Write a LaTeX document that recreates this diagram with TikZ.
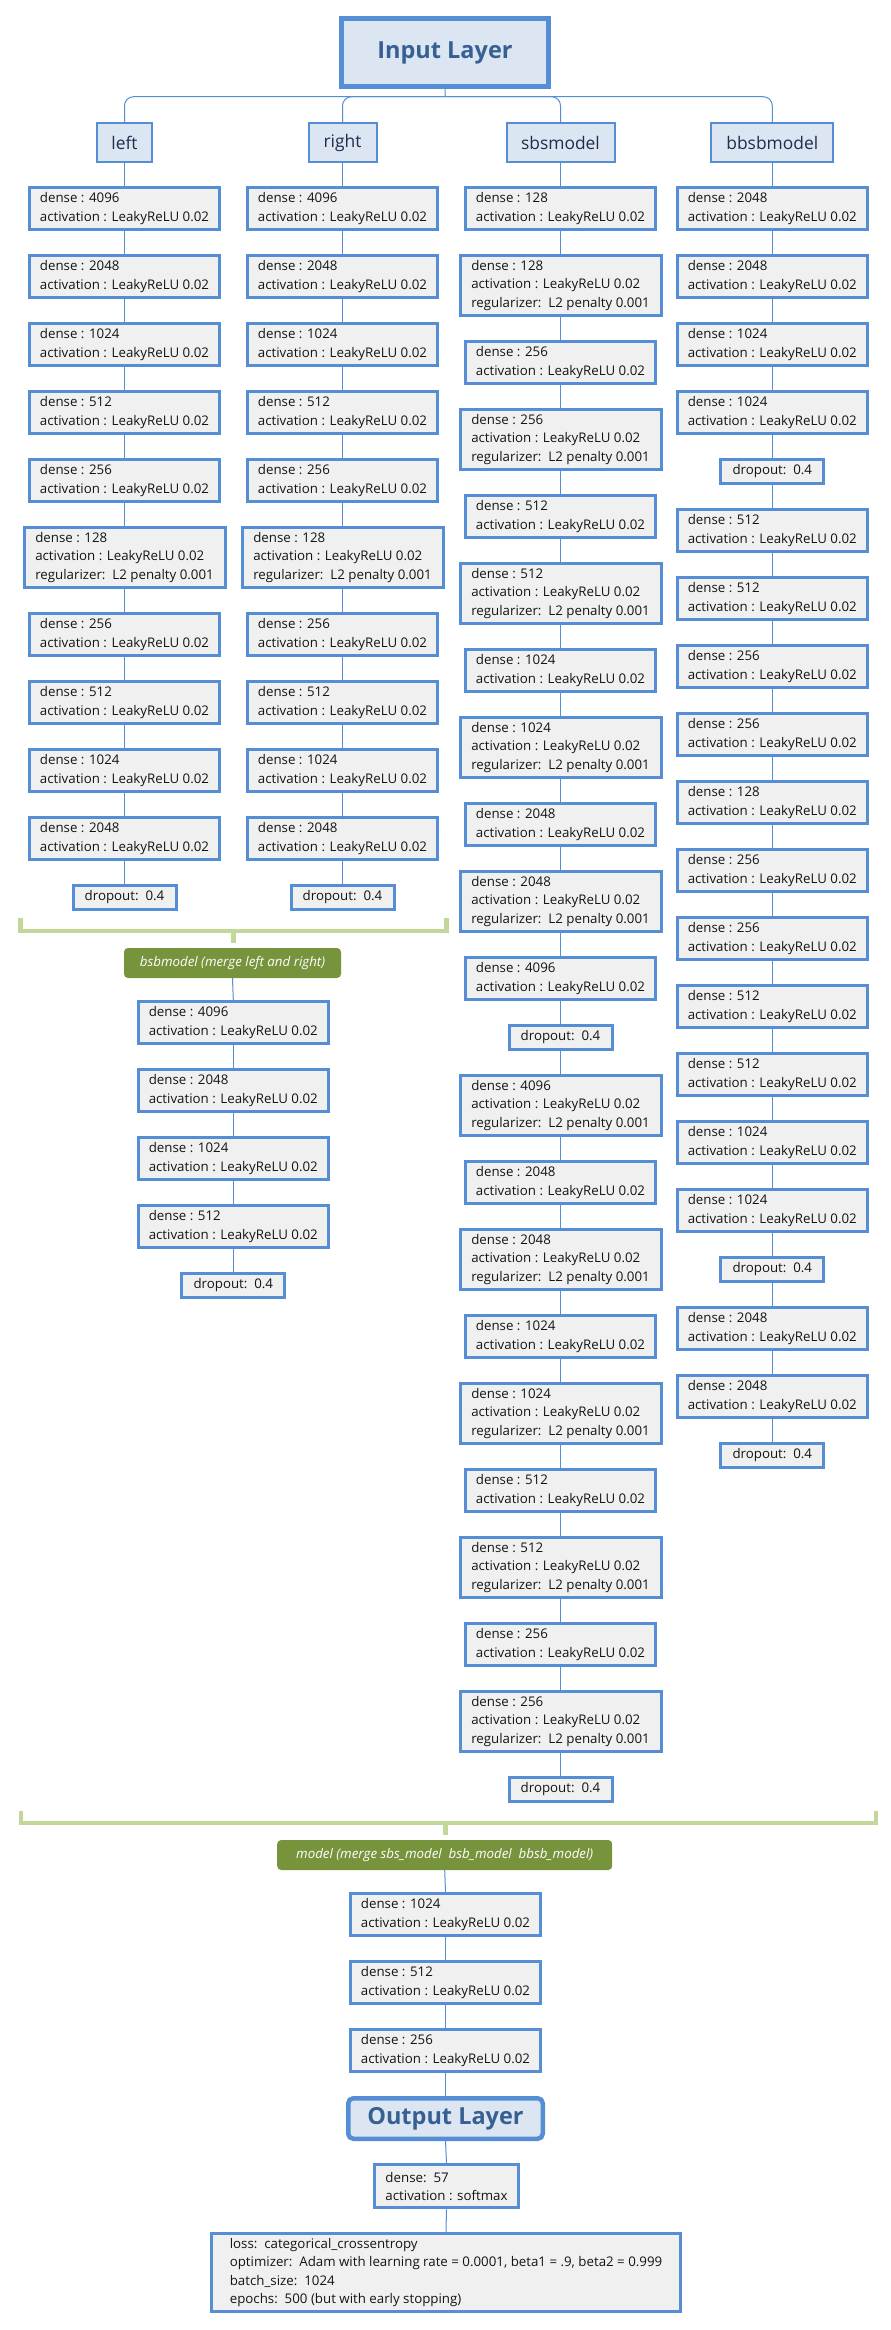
\documentclass[tikz,border=0pt]{standalone}
\usepackage{fontspec}
\setmainfont{Open Sans}

\definecolor{edge}{RGB}{85,142,213}
\definecolor{cellfill}{RGB}{240,240,240}
\definecolor{headfill}{RGB}{220,230,242}
\definecolor{headtext}{RGB}{55,96,146}
\definecolor{mergefill}{RGB}{119,147,60}
\definecolor{brace}{RGB}{196,215,155}
\definecolor{ink}{RGB}{20,20,20}
\definecolor{branchink}{RGB}{31,45,77}

% layer texts
\newcommand{\dlayer}[1]{dense : #1\\activation : LeakyReLU 0.02}
\newcommand{\rlayer}[1]{dense : #1\\activation : LeakyReLU 0.02\\regularizer:\ \ L2 penalty 0.001}
\newcommand{\dropline}{dropout:\ \ 0.4}

\tikzset{
  cell/.style={draw=edge, line width=3pt, fill=cellfill, text=ink, align=left,
    inner sep=0pt, font=\fontsize{13.3}{18.3}\selectfont,
    minimum width=190pt, minimum height=42pt},
  reg/.style={cell, minimum width=201pt, minimum height=60pt},
  drp/.style={cell, minimum width=103pt, minimum height=24pt},
  branch/.style={draw=edge, line width=2pt, fill=headfill, text=branchink,
    font=\fontsize{17.4}{20}\selectfont, minimum height=39pt, inner sep=0pt},
  layerhead/.style={draw=edge, fill=headfill, text=headtext, inner sep=0pt,
    font=\fontsize{23.5}{28}\selectfont\bfseries},
  merge/.style={fill=mergefill, rounded corners=4pt, text=white, inner sep=0pt,
    font=\fontsize{13.3}{16}\selectfont\itshape, minimum height=30pt},
  conn/.style={draw=edge, line width=1pt},
  brk/.style={draw=brace, line width=4.5pt},
}

\begin{document}
\begin{tikzpicture}[x=1pt, y=-1pt]
\fill[white] (0,0) rectangle (891,2330);
\useasboundingbox (0,0) rectangle (891,2330);

% ---------- input and branches ----------
\node[layerhead, line width=5pt, minimum width=207pt, minimum height=68pt] (in) at (445,52.5) {Input Layer};
\node[branch, minimum width=55pt]  (lft) at (124.5,142.5) {left};
\node[branch, minimum width=68pt]  (rgt) at (342.5,142.5) {right};
\node[branch, minimum width=108pt] (sbs) at (560.5,142.5) {sbsmodel};
\node[branch, minimum width=122pt] (bbs) at (772.3,142.5) {bbsbmodel};

\coordinate (bus) at (445.3,96.7);
\draw[conn] (in.south) -- (bus);
\foreach \t in {lft,rgt,sbs,bbs}
  \draw[conn, rounded corners=9pt] (bus) -- (bus -| \t.north) -- (\t.north);

% ---------- left ----------
\node[cell] (L1)  at (124.5,208.5) {\dlayer{4096}};
\node[cell] (L2)  at (124.5,276.5) {\dlayer{2048}};
\node[cell] (L3)  at (124.5,344.5) {\dlayer{1024}};
\node[cell] (L4)  at (124.5,412.5) {\dlayer{512}};
\node[cell] (L5)  at (124.5,480.5) {\dlayer{256}};
\node[reg]  (L6)  at (124.5,557.5) {\rlayer{128}};
\node[cell] (L7)  at (124.5,634.5) {\dlayer{256}};
\node[cell] (L8)  at (124.5,702.5) {\dlayer{512}};
\node[cell] (L9)  at (124.5,770.5) {\dlayer{1024}};
\node[cell] (L10) at (124.5,838.5) {\dlayer{2048}};
\node[drp]  (L11) at (124.5,897.5) {\dropline};

% ---------- right ----------
\node[cell] (R1)  at (342.5,208.5) {\dlayer{4096}};
\node[cell] (R2)  at (342.5,276.5) {\dlayer{2048}};
\node[cell] (R3)  at (342.5,344.5) {\dlayer{1024}};
\node[cell] (R4)  at (342.5,412.5) {\dlayer{512}};
\node[cell] (R5)  at (342.5,480.5) {\dlayer{256}};
\node[reg]  (R6)  at (342.5,557.5) {\rlayer{128}};
\node[cell] (R7)  at (342.5,634.5) {\dlayer{256}};
\node[cell] (R8)  at (342.5,702.5) {\dlayer{512}};
\node[cell] (R9)  at (342.5,770.5) {\dlayer{1024}};
\node[cell] (R10) at (342.5,838.5) {\dlayer{2048}};
\node[drp]  (R11) at (342.5,897.5) {\dropline};

% ---------- sbsmodel ----------
\node[cell] (S1)  at (560.5,208.5)  {\dlayer{128}};
\node[reg]  (S2)  at (560.5,285.5)  {\rlayer{128}};
\node[cell] (S3)  at (560.5,362.5)  {\dlayer{256}};
\node[reg]  (S4)  at (560.5,439.5)  {\rlayer{256}};
\node[cell] (S5)  at (560.5,516.5)  {\dlayer{512}};
\node[reg]  (S6)  at (560.5,593.5)  {\rlayer{512}};
\node[cell] (S7)  at (560.5,670.5)  {\dlayer{1024}};
\node[reg]  (S8)  at (560.5,747.5)  {\rlayer{1024}};
\node[cell] (S9)  at (560.5,824.5)  {\dlayer{2048}};
\node[reg]  (S10) at (560.5,901.5)  {\rlayer{2048}};
\node[cell] (S11) at (560.5,978.5)  {\dlayer{4096}};
\node[drp]  (S12) at (560.5,1037.5) {\dropline};
\node[reg]  (S13) at (560.5,1105.5) {\rlayer{4096}};
\node[cell] (S14) at (560.5,1182.5) {\dlayer{2048}};
\node[reg]  (S15) at (560.5,1259.5) {\rlayer{2048}};
\node[cell] (S16) at (560.5,1336.5) {\dlayer{1024}};
\node[reg]  (S17) at (560.5,1413.5) {\rlayer{1024}};
\node[cell] (S18) at (560.5,1490.5) {\dlayer{512}};
\node[reg]  (S19) at (560.5,1567.5) {\rlayer{512}};
\node[cell] (S20) at (560.5,1644.5) {\dlayer{256}};
\node[reg]  (S21) at (560.5,1721.5) {\rlayer{256}};
\node[drp]  (S22) at (560.5,1789.5) {\dropline};

% ---------- bbsbmodel ----------
\node[cell] (B1)  at (772.3,208.5)  {\dlayer{2048}};
\node[cell] (B2)  at (772.3,276.5)  {\dlayer{2048}};
\node[cell] (B3)  at (772.3,344.5)  {\dlayer{1024}};
\node[cell] (B4)  at (772.3,412.5)  {\dlayer{1024}};
\node[drp]  (B5)  at (772.3,471.5)  {\dropline};
\node[cell] (B6)  at (772.3,530.5)  {\dlayer{512}};
\node[cell] (B7)  at (772.3,598.5)  {\dlayer{512}};
\node[cell] (B8)  at (772.3,666.5)  {\dlayer{256}};
\node[cell] (B9)  at (772.3,734.5)  {\dlayer{256}};
\node[cell] (B10) at (772.3,802.5)  {\dlayer{128}};
\node[cell] (B11) at (772.3,870.5)  {\dlayer{256}};
\node[cell] (B12) at (772.3,938.5)  {\dlayer{256}};
\node[cell] (B13) at (772.3,1006.5) {\dlayer{512}};
\node[cell] (B14) at (772.3,1074.5) {\dlayer{512}};
\node[cell] (B15) at (772.3,1142.5) {\dlayer{1024}};
\node[cell] (B16) at (772.3,1210.5) {\dlayer{1024}};
\node[drp]  (B17) at (772.3,1269.5) {\dropline};
\node[cell] (B18) at (772.3,1328.5) {\dlayer{2048}};
\node[cell] (B19) at (772.3,1396.5) {\dlayer{2048}};
\node[drp]  (B20) at (772.3,1455.5) {\dropline};

% ---------- bsbmodel (merge of left and right) ----------
\coordinate (k1a) at (20.5,918.3);
\coordinate (k1b) at (446.5,918.3);
\coordinate (k1m) at (233.5,930.8);
\draw[brk] (k1a) -- (k1a |- k1m) -- (k1b |- k1m) -- (k1b);
\draw[brk] (k1m) -- ++(0,12.2);

\node[merge, minimum width=217pt] (bsb) at (232.5,963) {bsbmodel (merge left and right)};
\node[cell] (M1) at (233.3,1022.5) {\dlayer{4096}};
\node[cell] (M2) at (233.3,1090.5) {\dlayer{2048}};
\node[cell] (M3) at (233.3,1158.5) {\dlayer{1024}};
\node[cell] (M4) at (233.3,1226.5) {\dlayer{512}};
\node[drp]  (M5) at (233.3,1285.5) {\dropline};

% ---------- final model ----------
\coordinate (k2a) at (21,1810.7);
\coordinate (k2b) at (876,1810.7);
\coordinate (k2m) at (445.3,1823);
\draw[brk] (k2a) -- (k2a |- k2m) -- (k2b |- k2m) -- (k2b);
\draw[brk] (k2m) -- ++(0,12);

\node[merge, minimum width=335pt] (mdl) at (444.7,1855) {model (merge sbs\_model\ \ bsb\_model\ \ bbsb\_model)};
\node[cell] (N1) at (445.5,1914.5) {\dlayer{1024}};
\node[cell] (N2) at (445.5,1982.5) {\dlayer{512}};
\node[cell] (N3) at (445.5,2050.5) {\dlayer{256}};
\node[layerhead, line width=4.5pt, rounded corners=5pt, minimum width=194.5pt, minimum height=40.5pt] (out) at (445.5,2118.5) {Output Layer};
\node[cell, minimum width=143.5pt, minimum height=43pt] (soft) at (446.5,2186.3) {dense:\ \ 57\\activation : softmax};
\node[cell, minimum width=469pt, minimum height=78pt] (loss) at (446,2272.5)
  {loss:\ \ categorical\_crossentropy\\optimizer:\ \ Adam with learning rate = 0.0001, beta1 = .9, beta2 = 0.999\\batch\_size:\ \ 1024\\epochs:\ \ 500 (but with early stopping)};

% ---------- connectors ----------
\draw[conn] (lft.south) -- (L1.north);
\draw[conn] (rgt.south) -- (R1.north);
\draw[conn] (sbs.south) -- (S1.north);
\draw[conn] (bbs.south) -- (B1.north);
\foreach \i in {1,...,10}{\pgfmathtruncatemacro\j{\i+1}\draw[conn] (L\i.south) -- (L\j.north);}
\foreach \i in {1,...,10}{\pgfmathtruncatemacro\j{\i+1}\draw[conn] (R\i.south) -- (R\j.north);}
\foreach \i in {1,...,21}{\pgfmathtruncatemacro\j{\i+1}\draw[conn] (S\i.south) -- (S\j.north);}
\foreach \i in {1,...,19}{\pgfmathtruncatemacro\j{\i+1}\draw[conn] (B\i.south) -- (B\j.north);}
\draw[conn] (bsb.south) -- (M1.north);
\foreach \i in {1,...,4}{\pgfmathtruncatemacro\j{\i+1}\draw[conn] (M\i.south) -- (M\j.north);}
\draw[conn] (mdl.south) -- (N1.north);
\draw[conn] (N1.south) -- (N2.north);
\draw[conn] (N2.south) -- (N3.north);
\draw[conn] (N3.south) -- (out.north);
\draw[conn] (out.south) -- (soft.north);
\draw[conn] (soft.south) -- (loss.north);
\end{tikzpicture}
\end{document}
